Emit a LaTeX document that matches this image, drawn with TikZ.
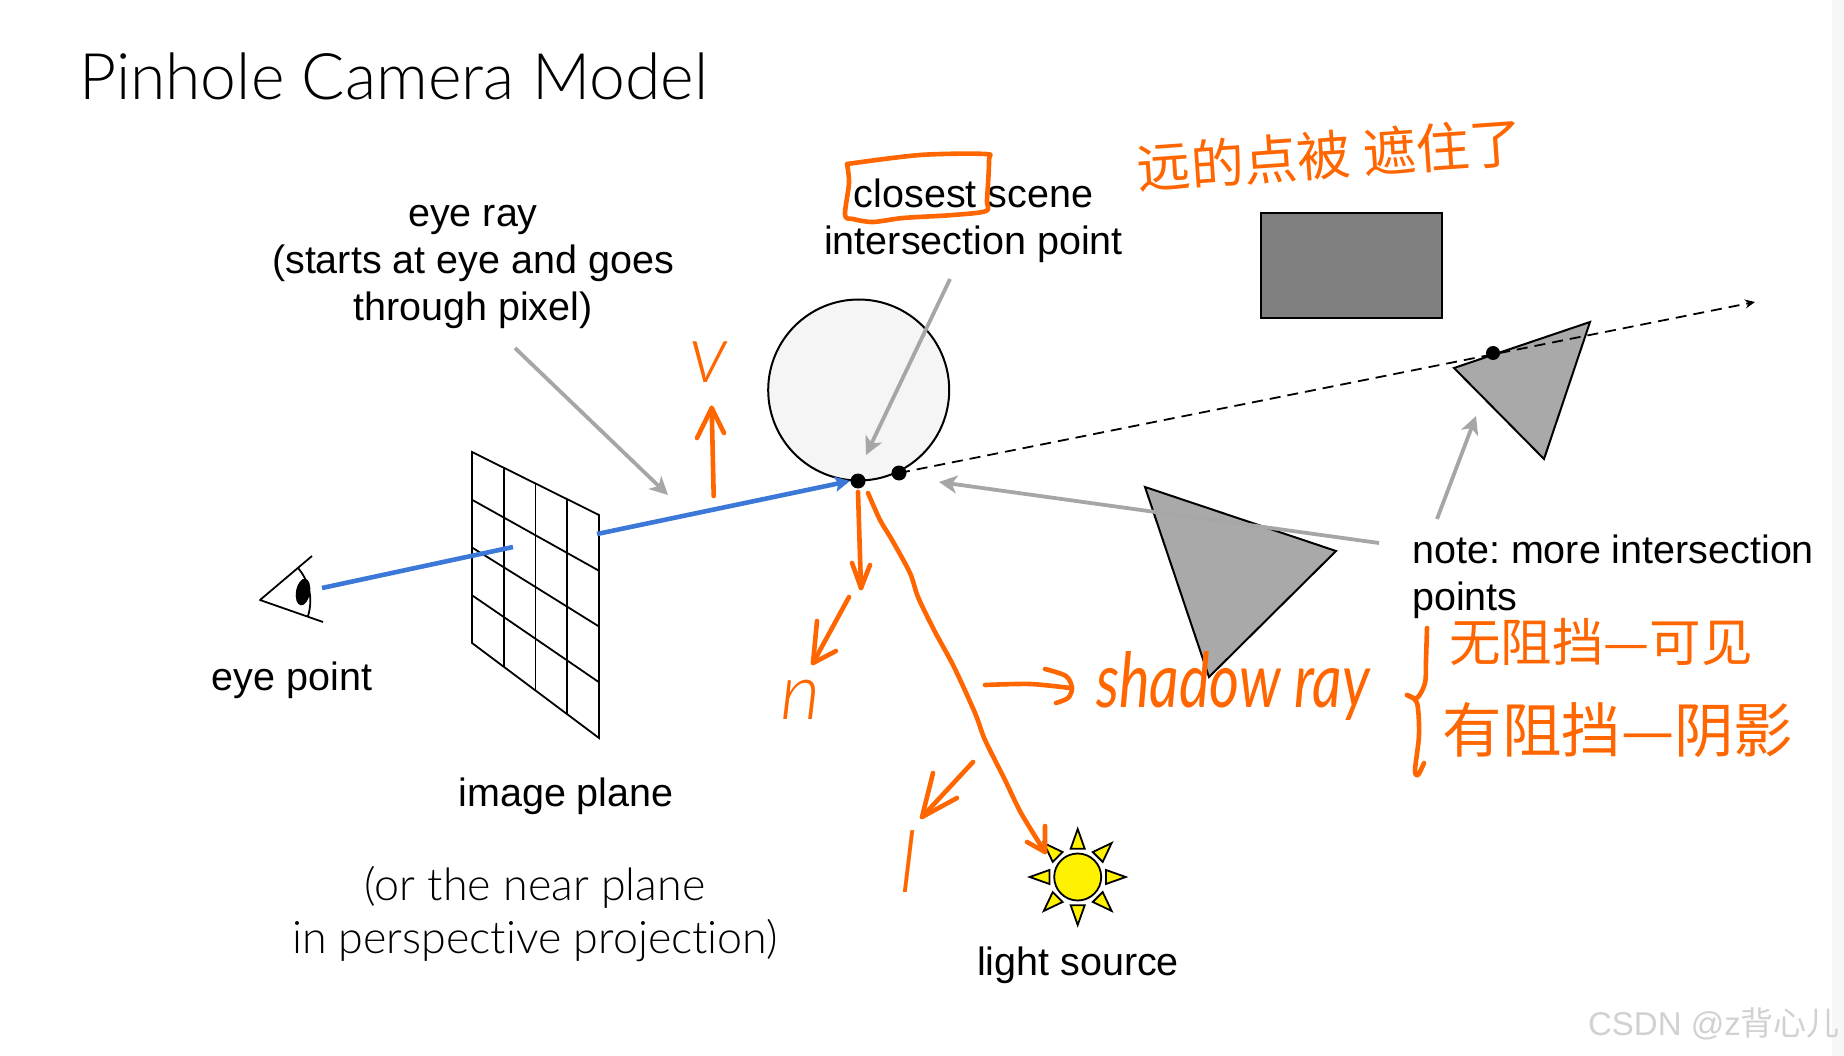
\documentclass[tikz,border=0pt]{standalone}
\usepackage{fontspec}
\setmainfont{Liberation Sans}
\newfontfamily\avenir{Lato}[UprightFont={* Light},Ligatures=NoCommon]
\newfontfamily\cjk{Noto Sans CJK SC}
\newfontfamily\handl{Lato}
\newfontfamily\handthin{Lato}[UprightFont={* Light},ItalicFont={* Light Italic}]
\usetikzlibrary{arrows.meta,calc}
\frenchspacing
\definecolor{hand}{HTML}{FF6600}
\definecolor{rayblue}{HTML}{3C78D8}
\definecolor{annot}{HTML}{A6A6A6}
\definecolor{tri}{HTML}{A9A9A9}
\definecolor{boxgray}{HTML}{808080}
\definecolor{sphere}{HTML}{F5F5F5}
\tikzset{
  lab/.style={font=\fontsize{39.5}{47}\selectfont,text=black,inner sep=0pt,align=center},
  labl/.style={lab,align=left},
  avlab/.style={font=\avenir\fontsize{44.8}{53}\selectfont,text=black,inner sep=0pt,align=center},
  htext/.style={font=\cjk\fontsize{#1}{#1}\selectfont,text=hand,inner sep=0pt},
  hlat/.style={font=\handl\itshape\fontsize{#1}{#1}\selectfont,text=hand,inner sep=0pt},
  hthin/.style={font=\handthin\itshape\fontsize{#1}{#1}\selectfont,text=hand,inner sep=0pt},
  pen/.style={draw=hand,line width=4.6pt,line cap=round,line join=round},
  grayarrow/.style={draw=annot,line width=3.8pt,-{Stealth[length=18pt,width=18pt,inset=5pt]}},
  bluearrow/.style={draw=rayblue,line width=4.6pt},
  outline/.style={draw=black,line width=2pt,line join=miter},
  gridline/.style={draw=black,line width=1.8pt},
  sunpart/.style={draw=black,line width=1.8pt,fill=yellow,line join=miter},
  dot/.style={circle,fill=black,inner sep=0pt,minimum size=15pt},
}
\begin{document}
\begin{tikzpicture}[x=1pt,y=-1pt]
\useasboundingbox (0,0) rectangle (1844,1056);
\fill[white] (0,0) rectangle (1844,1056);
\fill[black!3] (1832,0) rectangle (1844,1056);
% title
\node[font=\avenir\fontsize{64.2}{64.2}\selectfont,anchor=base west,inner sep=0pt] (title) at (79,100) {Pinhole Camera Model};
% named anchors
\coordinate (hitA) at (858,481);
\coordinate (hitB) at (899,473);
\coordinate (hitC) at (1493,353);
\coordinate (rayEnd) at (1755,302);
\coordinate (eyeA) at (322,588);
\coordinate (eyeB) at (513,547);
\coordinate (rayOut) at (597,534);
\coordinate (rayIn) at (850,481);
% box and triangles
\draw[outline,fill=boxgray] (1261,213) rectangle (1442,318);
\draw[outline,fill=tri] (1145,487) -- (1336,551) -- (1209,677) -- cycle;
\draw[outline,fill=tri] (1590,322) -- (1454,368) -- (1544,459) -- cycle;
% sphere
\node[circle,draw=black,line width=2pt,fill=sphere,minimum size=181pt,inner sep=0pt] (sph) at (858.7,390) {};
% eye
\coordinate (apex) at (260,600);
\draw[gridline,line join=round] (312,556) -- (apex) -- (323,622);
\draw[gridline] (298,568) .. controls (310,582) and (313,600) .. (308,616);
\fill[rotate around={-10:(303,592)}] (303,592) ellipse [x radius=7,y radius=13.5];
% image plane
\coordinate (TL) at (472,452);
\coordinate (TR) at (599,515);
\coordinate (BL) at (472,643);
\coordinate (BR) at (599,738);
\draw[gridline] (TL) -- (TR) -- (BR) -- (BL) -- cycle;
\foreach \t in {.25,.5,.75} {
  \draw[gridline] ($(TL)!\t!(TR)$) -- ($(BL)!\t!(BR)$);
  \draw[gridline] ($(TL)!\t!(BL)$) -- ($(TR)!\t!(BR)$);
}
% sun
\node[circle,sunpart,minimum size=47pt,inner sep=0pt] (sun) at (1077.7,877) {};
\foreach \a in {0,45,...,315}
  \draw[sunpart,rotate around={\a:(sun.center)}] (1077.7,829) -- (1084.7,848.7) -- (1070.7,848.7) -- cycle;
% rays
\draw[bluearrow] (eyeA) -- (eyeB);
\draw[bluearrow,-{Stealth[length=15pt,width=15pt,inset=3pt]}] (rayOut) -- (rayIn);
\draw[draw=black,line width=1.8pt,dash pattern=on 11pt off 7pt,-{Stealth[length=10pt,width=9pt]}] (hitB) -- (rayEnd);
\node[dot] (hitAdot) at (hitA) {};
\node[dot] (hitBdot) at (hitB) {};
\node[dot,minimum size=14pt] (hitCdot) at (hitC) {};
% gray annotation arrows
\coordinate (g1a) at (515,348); \coordinate (g1b) at (668,495);
\coordinate (g2a) at (950,279); \coordinate (g2b) at (866,455);
\coordinate (g3a) at (1379,543); \coordinate (g3b) at (939,482);
\coordinate (g4a) at (1437,519); \coordinate (g4b) at (1476,416);
\draw[grayarrow] (g1a) -- (g1b);
\draw[grayarrow] (g2a) -- (g2b);
\draw[grayarrow] (g3a) -- (g3b);
\draw[grayarrow] (g4a) -- (g4b);
% labels
\node[lab] (eyeray) at (473,267) {eye ray\\(starts at eye and goes\\through pixel)};
\node[lab] (closest) at (973.5,220.5) {closest scene\\intersection point};
\node[lab] (eyept) at (292,680.5) {eye point};
\node[lab] (imgpl) at (566,796.5) {image plane};
\node[avlab] (near) at (535,914) {(or the near plane\\in perspective projection)};
\node[lab] (light) at (1078,965.5) {light source};
\node[labl,anchor=west] (note) at (1412,576.5) {note: more intersection\\points};
% hand-drawn marks
\draw[pen] plot[smooth] coordinates {(847,164) (920,155) (985,154) (989,160) (987,200) (986,211) (953,215) (903,218) (873,222) (853,219) (845,215) (849,183) (847,164)};
\coordinate (vA) at (713.7,496); \coordinate (vB) at (711.7,408);
\draw[pen] (vA) -- (vB);
\draw[pen] (697,438) -- (vB) -- (724,433);
\coordinate (nA) at (858,492); \coordinate (nB) at (861,588);
\draw[pen] (nA) -- (nB);
\draw[pen] (852,563) -- (nB) -- (870,565);
\coordinate (nC) at (849,597); \coordinate (nD) at (813,663);
\draw[pen] (nC) -- (nD);
\draw[pen] (817,621) -- (nD) -- (836,651);
\coordinate (sunTip) at (1045,852);
\draw[pen] plot[smooth] coordinates {(868,493) (880,520) (892,540) (910,573) (918,597) (934,630) (954,667) (975,713) (985,740) (1005,780) (1021,813) (sunTip)};
\draw[pen] (1045,826) -- (sunTip) -- (1027,842);
\coordinate (lA) at (973,762); \coordinate (lB) at (922,817);
\draw[pen] (lA) -- (lB);
\draw[pen] (933,773) -- (lB) -- (957,798);
\coordinate (sA) at (985,685); \coordinate (sB) at (1070,688);
\draw[pen] plot[smooth] coordinates {(sA) (1030,684) (sB)};
\draw[pen] plot[smooth] coordinates {(1045,669) (1066,676) (1072,688) (1068,698) (1056,703)};
\draw[pen] plot[smooth] coordinates {(1427,628) (1426,660) (1425,683) (1417,698) (1407,695)};
\draw[pen] plot[smooth] coordinates {(1407,695) (1417,703) (1419,735) (1415,770) (1418,775) (1424,763)};
% handwritten text
\node[hthin=82] (vlab) at (708,362) {v};
\node[hthin=78] (nlab) at (801,700) {n};
\node[hthin=85] (llab) at (908,862) {l};
\node[hlat=76,xscale=.76,anchor=base] (shadow) at (1233,707) {shadow ray};
\node[htext=53.5,rotate=4] (far) at (1330,155) {远的点被 遮住了};
\node[htext=51.5] (free) at (1601,642) {无阻挡—可见};
\node[htext=59.5] (block) at (1618,730) {有阻挡—阴影};
% watermark
\node[font=\fontsize{33}{33}\selectfont,text=black!18,anchor=base east,inner sep=0pt] (wm) at (1840,1035) {CSDN @z{\cjk 背心儿}};
\end{tikzpicture}
\end{document}
